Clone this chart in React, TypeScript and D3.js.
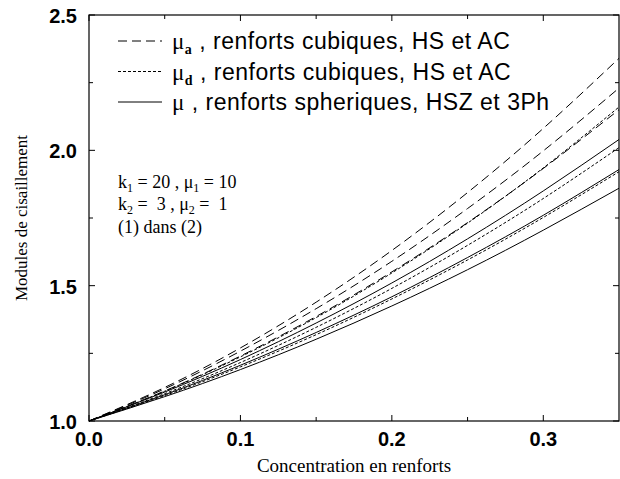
import * as d3 from "d3";

// concentration points (x) shared by every curve
const CONC = [0, 0.05, 0.1, 0.15, 0.2, 0.25, 0.3, 0.35];

// mu_a, cubic reinforcements (HS bounds and AC)
const MU_A_1 = [1, 1.124, 1.27, 1.439, 1.63, 1.844, 2.081, 2.34];
const MU_A_2 = [1, 1.119, 1.258, 1.415, 1.59, 1.785, 1.998, 2.23];
const MU_A_3 = [1, 1.111, 1.24, 1.386, 1.551, 1.733, 1.933, 2.15];

// mu_d, cubic reinforcements
const MU_D_1 = [1, 1.11, 1.237, 1.382, 1.547, 1.731, 1.935, 2.16];
const MU_D_2 = [1, 1.101, 1.216, 1.346, 1.49, 1.649, 1.822, 2.01];
const MU_D_3 = [1, 1.094, 1.2, 1.319, 1.451, 1.595, 1.752, 1.921];

// mu, spherical reinforcements (HSZ and 3Ph)
const MU_S_1 = [1, 1.107, 1.227, 1.362, 1.51, 1.673, 1.85, 2.04];
const MU_S_2 = [1, 1.097, 1.206, 1.327, 1.459, 1.604, 1.76, 1.929];
const MU_S_3 = [1, 1.09, 1.19, 1.302, 1.425, 1.559, 1.705, 1.86];

const X_TICKS = [0, 0.1, 0.2, 0.3];
const X_MINOR = [0.05, 0.15, 0.25];
const Y_TICKS = [1.0, 1.5, 2.0, 2.5];
const Y_MINOR = [1.25, 1.75, 2.25];

const DASH = "9 5";
const DOT = "3 2";

const SERIES = [
  { values: MU_A_1, dash: DASH },
  { values: MU_A_2, dash: DASH },
  { values: MU_A_3, dash: DASH },
  { values: MU_D_1, dash: DOT },
  { values: MU_D_2, dash: DOT },
  { values: MU_D_3, dash: DOT },
  { values: MU_S_1, dash: "" },
  { values: MU_S_2, dash: "" },
  { values: MU_S_3, dash: "" },
];

const LEGEND = [
  { dash: DASH, sub: "a", label: " , renforts cubiques, HS et AC" },
  { dash: DOT, sub: "d", label: " , renforts cubiques, HS et AC" },
  { dash: "", sub: "", label: " , renforts spheriques, HSZ et 3Ph" },
];

const SANS = "'Liberation Sans', Arial, sans-serif";
const SERIF = "'Liberation Serif', 'Times New Roman', serif";
const NB = "\u00a0";

export default function App() {
  const W = 620;
  const H = 479;
  const m = { left: 89, right: 619, top: 15, bottom: 421 };

  const x = d3.scaleLinear().domain([0, 0.35]).range([m.left, m.right]);
  const y = d3.scaleLinear().domain([1, 2.5]).range([m.bottom, m.top]);

  const line = d3
    .line<number>()
    .x((_, i) => x(CONC[i]))
    .y((d) => y(d))
    .curve(d3.curveNatural);

  const major = 6;
  const minor = 4;

  return (
    <svg
      width={W}
      height={H}
      style={{ position: "absolute", left: 0, top: 0, background: "#fff" }}
    >
      {/* curves */}
      {SERIES.map((s, i) => (
        <path
          key={i}
          d={line(s.values) ?? ""}
          fill="none"
          stroke="#000"
          strokeWidth={1}
          strokeDasharray={s.dash || undefined}
        />
      ))}

      {/* frame */}
      <rect
        x={m.left}
        y={m.top}
        width={m.right - m.left}
        height={m.bottom - m.top}
        fill="none"
        stroke="#000"
        strokeWidth={1.2}
      />

      {/* ticks, inward on all sides */}
      <g stroke="#000" strokeWidth={1}>
        {X_TICKS.map((t) => (
          <g key={"xt" + t}>
            <line x1={x(t)} x2={x(t)} y1={m.bottom} y2={m.bottom - major} />
            <line x1={x(t)} x2={x(t)} y1={m.top} y2={m.top + major} />
          </g>
        ))}
        {X_MINOR.map((t) => (
          <g key={"xm" + t}>
            <line x1={x(t)} x2={x(t)} y1={m.bottom} y2={m.bottom - minor} />
            <line x1={x(t)} x2={x(t)} y1={m.top} y2={m.top + minor} />
          </g>
        ))}
        {Y_TICKS.map((t) => (
          <g key={"yt" + t}>
            <line x1={m.left} x2={m.left + major} y1={y(t)} y2={y(t)} />
            <line x1={m.right} x2={m.right - major} y1={y(t)} y2={y(t)} />
          </g>
        ))}
        {Y_MINOR.map((t) => (
          <g key={"ym" + t}>
            <line x1={m.left} x2={m.left + minor} y1={y(t)} y2={y(t)} />
            <line x1={m.right} x2={m.right - minor} y1={y(t)} y2={y(t)} />
          </g>
        ))}
      </g>

      {/* tick labels */}
      <g fontFamily={SANS} fontWeight="bold" fontSize={20} fill="#000">
        {X_TICKS.map((t) => (
          <text key={"xl" + t} x={x(t)} y={446} textAnchor="middle">
            {t.toFixed(1)}
          </text>
        ))}
        {Y_TICKS.map((t) => (
          <text key={"yl" + t} x={77} y={y(t) + 8} textAnchor="end">
            {t.toFixed(1)}
          </text>
        ))}
      </g>

      {/* axis titles */}
      <text
        x={(m.left + m.right) / 2}
        y={472}
        textAnchor="middle"
        fontFamily={SERIF}
        fontSize={19}
      >
        Concentration en renforts
      </text>
      <text
        transform={`translate(27,${(m.top + m.bottom) / 2}) rotate(-90)`}
        textAnchor="middle"
        fontFamily={SERIF}
        fontSize={17}
      >
        Modules de cisaillement
      </text>

      {/* legend */}
      <g fontFamily={SANS} fontSize={23} fill="#000" letterSpacing={0.5}>
        {LEGEND.map((r, i) => {
          const cy = 41 + i * 30.5;
          return (
            <g key={i}>
              <line
                x1={118}
                x2={162}
                y1={cy}
                y2={cy}
                stroke="#000"
                strokeWidth={1}
                strokeDasharray={r.dash || undefined}
              />
              <text x={172} y={cy + 8}>
                <tspan fontFamily={SERIF}>μ</tspan>
                {r.sub && (
                  <tspan fontFamily={SERIF} fontWeight="bold" fontSize={14} dy={5}>
                    {r.sub}
                  </tspan>
                )}
                <tspan dy={r.sub ? -5 : 0}>{r.label}</tspan>
              </text>
            </g>
          );
        })}
      </g>

      {/* material parameters */}
      <g fontFamily={SERIF} fontSize={18} fill="#000">
        <text x={118} y={188}>
          k<tspan fontSize={12} dy={4}>1</tspan>
          <tspan dy={-4}> = 20 , μ</tspan>
          <tspan fontSize={12} dy={4}>1</tspan>
          <tspan dy={-4}> = 10</tspan>
        </text>
        <text x={118} y={210}>
          k<tspan fontSize={12} dy={4}>2</tspan>
          <tspan dy={-4}>{` = ${NB}3 , μ`}</tspan>
          <tspan fontSize={12} dy={4}>2</tspan>
          <tspan dy={-4}>{` = ${NB}1`}</tspan>
        </text>
        <text x={118} y={233}>
          (1) dans (2)
        </text>
      </g>
    </svg>
  );
}
